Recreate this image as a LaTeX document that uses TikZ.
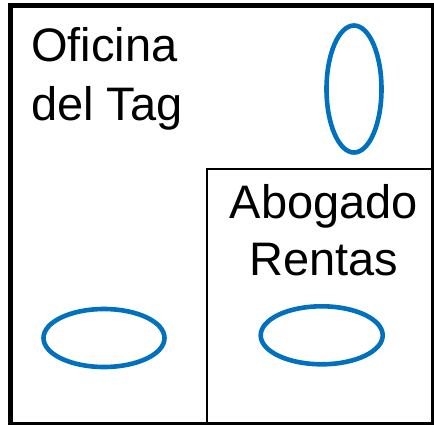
\documentclass[tikz,border=0pt]{standalone}
\usepackage{fontspec}
\setmainfont{Liberation Sans}
\definecolor{ovalblue}{RGB}{0,112,192}
\tikzset{
  outerwall/.style={draw=black, line width=5pt},
  innerwall/.style={draw=black, line width=2pt},
  oval/.style={draw=ovalblue, line width=4.6pt, ellipse, inner sep=0pt},
  roomlabel/.style={inner sep=0pt, text=black}
}
\usetikzlibrary{shapes.geometric}
\begin{document}
\begin{tikzpicture}[x=1pt,y=-1pt]
\useasboundingbox (0,0) rectangle (434,424);
\begin{scope}
\clip (0,0) rectangle (434,424);
\draw[outerwall] (10.5,5.5) rectangle (433.5,424.5);
\draw[innerwall] (207,169) rectangle (433.5,424.5);
\end{scope}
\node[roomlabel, font=\fontsize{47}{59}\selectfont, align=left, anchor=base west] (oficina) at (31,120) {Oficina\\del Tag};
\node[roomlabel, font=\fontsize{47}{57}\selectfont, align=center, anchor=base] (abogado) at (324,275) {Abogado\\Rentas};
\node[oval, minimum width=55pt, minimum height=127pt] (ovtop) at (354,89) {};
\node[oval, minimum width=121pt, minimum height=58pt] (ovleft) at (104,338) {};
\node[oval, minimum width=122pt, minimum height=58pt] (ovright) at (321.7,335.3) {};
\end{tikzpicture}
\end{document}
